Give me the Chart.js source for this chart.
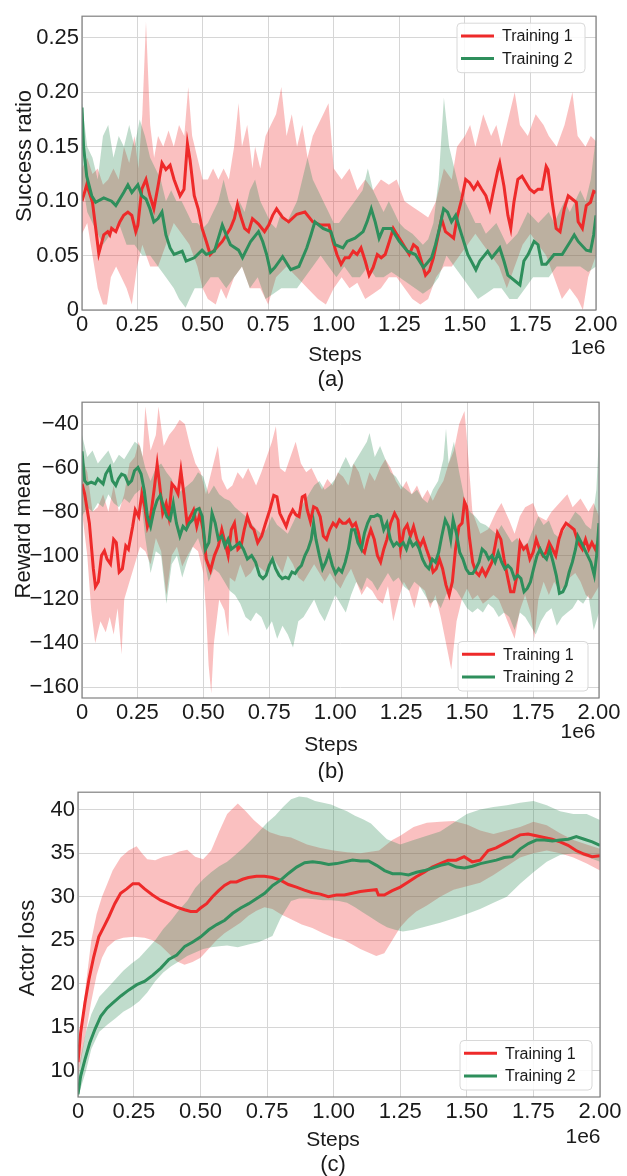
<!DOCTYPE html>
<html>
<head>
<meta charset="utf-8">
<script src="https://cdn.jsdelivr.net/npm/chart.js@4.4.1/dist/chart.umd.min.js"></script>
<style>
  html, body { margin: 0; padding: 0; background: #fff; }
  body { width: 627px; height: 1176px; position: relative; overflow: hidden; }
  canvas { position: absolute; left: 0; }
</style>
</head>
<body>
<canvas id="chartA" width="627" height="392" style="top:0px"></canvas>
<canvas id="chartB" width="627" height="396" style="top:386px"></canvas>
<canvas id="chartC" width="627" height="400" style="top:776px"></canvas>
<script>
// steps are in millions (axis offset label "1e6")
const X_TICKS = [0.04, 0.25, 0.5, 0.75, 1.0, 1.25, 1.5, 1.75, 2.0];
const Y_TICKS_A = [0, 0.05, 0.1, 0.15, 0.2, 0.25];
const Y_TICKS_B = [-160, -140, -120, -100, -80, -60, -40];
const Y_TICKS_C = [10, 15, 20, 25, 30, 35, 40];
const SERIES_NAMES = ["Training 1", "Training 2"];

// (a) success ratio
const t1MeanA = [[0.04,0.100],[0.058,0.115],[0.08,0.099],[0.10,0.060],[0.104,0.052],[0.123,0.069],[0.138,0.072],[0.146,0.069],[0.153,0.075],[0.169,0.072],[0.184,0.081],[0.199,0.087],[0.215,0.090],[0.23,0.087],[0.245,0.072],[0.253,0.078],[0.268,0.111],[0.284,0.120],[0.299,0.105],[0.314,0.093],[0.33,0.114],[0.345,0.135],[0.36,0.129],[0.376,0.133],[0.391,0.120],[0.414,0.105],[0.429,0.111],[0.442,0.153],[0.452,0.138],[0.468,0.105],[0.483,0.093],[0.498,0.075],[0.514,0.063],[0.529,0.051],[0.552,0.057],[0.575,0.063],[0.59,0.069],[0.606,0.075],[0.621,0.084],[0.633,0.097],[0.644,0.087],[0.66,0.075],[0.675,0.072],[0.69,0.084],[0.713,0.079],[0.736,0.072],[0.752,0.078],[0.767,0.087],[0.782,0.093],[0.805,0.085],[0.828,0.081],[0.859,0.088],[0.89,0.09],[0.92,0.081],[0.951,0.078],[0.982,0.078],[0.997,0.063],[1.012,0.051],[1.028,0.042],[1.043,0.048],[1.058,0.048],[1.074,0.054],[1.089,0.051],[1.104,0.057],[1.12,0.045],[1.135,0.032],[1.15,0.039],[1.166,0.051],[1.181,0.048],[1.196,0.051],[1.212,0.063],[1.227,0.075],[1.242,0.069],[1.258,0.063],[1.273,0.057],[1.288,0.051],[1.304,0.06],[1.319,0.057],[1.334,0.045],[1.35,0.032],[1.365,0.036],[1.38,0.048],[1.396,0.066],[1.411,0.084],[1.426,0.072],[1.442,0.069],[1.457,0.066],[1.472,0.087],[1.488,0.102],[1.503,0.12],[1.518,0.117],[1.534,0.111],[1.549,0.117],[1.564,0.111],[1.58,0.105],[1.595,0.093],[1.61,0.111],[1.626,0.129],[1.633,0.135],[1.649,0.114],[1.664,0.087],[1.675,0.075],[1.687,0.099],[1.702,0.12],[1.718,0.123],[1.733,0.117],[1.748,0.111],[1.764,0.108],[1.779,0.111],[1.794,0.111],[1.81,0.132],[1.817,0.129],[1.833,0.099],[1.848,0.075],[1.863,0.072],[1.879,0.093],[1.894,0.105],[1.909,0.102],[1.925,0.099],[1.932,0.081],[1.948,0.075],[1.963,0.096],[1.979,0.099],[1.991,0.109],[2.0,0.108]];
const t1UpperA = [[0.04,0.13],[0.06,0.14],[0.08,0.125],[0.10,0.13],[0.12,0.115],[0.14,0.12],[0.16,0.13],[0.18,0.12],[0.20,0.15],[0.22,0.135],[0.24,0.16],[0.255,0.13],[0.27,0.18],[0.284,0.265],[0.30,0.17],[0.315,0.14],[0.33,0.16],[0.35,0.15],[0.37,0.165],[0.39,0.15],[0.41,0.17],[0.43,0.16],[0.445,0.205],[0.46,0.16],[0.48,0.14],[0.50,0.12],[0.52,0.12],[0.54,0.13],[0.56,0.12],[0.58,0.13],[0.60,0.12],[0.62,0.15],[0.637,0.19],[0.65,0.15],[0.67,0.17],[0.69,0.13],[0.70,0.15],[0.72,0.13],[0.74,0.16],[0.76,0.17],[0.78,0.18],[0.80,0.205],[0.82,0.16],[0.84,0.18],[0.86,0.15],[0.88,0.17],[0.90,0.14],[0.92,0.16],[0.94,0.17],[0.96,0.18],[0.98,0.19],[1.00,0.13],[1.03,0.12],[1.06,0.13],[1.09,0.11],[1.12,0.12],[1.15,0.11],[1.18,0.12],[1.21,0.115],[1.24,0.12],[1.27,0.10],[1.30,0.095],[1.33,0.09],[1.36,0.085],[1.39,0.10],[1.42,0.13],[1.45,0.12],[1.47,0.15],[1.50,0.16],[1.52,0.17],[1.54,0.15],[1.57,0.18],[1.60,0.16],[1.62,0.17],[1.64,0.15],[1.66,0.17],[1.69,0.20],[1.71,0.17],[1.74,0.16],[1.77,0.18],[1.80,0.17],[1.82,0.16],[1.85,0.15],[1.88,0.17],[1.91,0.20],[1.93,0.16],[1.96,0.15],[1.98,0.16],[2.00,0.155]];
const t1LowerA = [[0.04,0.07],[0.06,0.08],[0.08,0.05],[0.10,0.02],[0.12,0.005],[0.135,0.005],[0.15,0.03],[0.17,0.04],[0.19,0.03],[0.21,0.02],[0.23,0.005],[0.25,0.04],[0.27,0.06],[0.30,0.04],[0.33,0.04],[0.36,0.06],[0.39,0.08],[0.42,0.07],[0.45,0.06],[0.48,0.04],[0.50,0.02],[0.52,0.01],[0.55,0.005],[0.57,0.02],[0.59,0.01],[0.62,0.03],[0.65,0.04],[0.68,0.02],[0.72,0.02],[0.75,0.005],[0.78,0.03],[0.82,0.04],[0.86,0.03],[0.90,0.02],[0.94,0.01],[0.97,0.005],[1.00,0.02],[1.03,0.03],[1.06,0.02],[1.09,0.025],[1.12,0.01],[1.15,0.015],[1.18,0.02],[1.21,0.03],[1.24,0.03],[1.27,0.02],[1.30,0.01],[1.33,0.005],[1.36,0.01],[1.39,0.03],[1.42,0.04],[1.45,0.04],[1.48,0.05],[1.51,0.06],[1.54,0.07],[1.57,0.06],[1.60,0.05],[1.63,0.04],[1.66,0.02],[1.69,0.04],[1.72,0.06],[1.75,0.07],[1.78,0.06],[1.81,0.05],[1.84,0.03],[1.87,0.01],[1.90,0.02],[1.93,0.01],[1.95,0.0],[1.97,0.03],[2.00,0.05]];
const t2MeanA = [[0.04,0.186],[0.046,0.150],[0.058,0.123],[0.077,0.105],[0.092,0.099],[0.123,0.103],[0.153,0.100],[0.169,0.096],[0.199,0.108],[0.215,0.115],[0.23,0.108],[0.253,0.115],[0.268,0.105],[0.284,0.102],[0.299,0.093],[0.314,0.081],[0.33,0.084],[0.345,0.090],[0.36,0.069],[0.376,0.057],[0.391,0.051],[0.422,0.054],[0.437,0.045],[0.468,0.048],[0.498,0.055],[0.514,0.051],[0.545,0.054],[0.56,0.066],[0.575,0.078],[0.59,0.069],[0.606,0.060],[0.637,0.055],[0.652,0.048],[0.683,0.063],[0.713,0.072],[0.729,0.063],[0.744,0.051],[0.759,0.035],[0.775,0.039],[0.805,0.049],[0.836,0.037],[0.867,0.040],[0.897,0.057],[0.913,0.069],[0.928,0.081],[0.959,0.075],[0.989,0.072],[1.005,0.060],[1.035,0.057],[1.051,0.063],[1.081,0.066],[1.112,0.072],[1.127,0.081],[1.143,0.093],[1.158,0.081],[1.173,0.066],[1.189,0.075],[1.219,0.075],[1.25,0.063],[1.281,0.054],[1.311,0.051],[1.342,0.039],[1.373,0.048],[1.388,0.060],[1.403,0.075],[1.419,0.093],[1.434,0.090],[1.449,0.081],[1.465,0.087],[1.48,0.075],[1.511,0.051],[1.542,0.037],[1.557,0.045],[1.587,0.054],[1.603,0.048],[1.633,0.057],[1.649,0.045],[1.664,0.032],[1.695,0.026],[1.71,0.023],[1.725,0.045],[1.741,0.051],[1.764,0.063],[1.779,0.060],[1.794,0.042],[1.81,0.042],[1.84,0.051],[1.871,0.051],[1.902,0.063],[1.917,0.069],[1.932,0.063],[1.963,0.055],[1.979,0.054],[1.991,0.069],[2.0,0.087]];
const t2UpperA = [[0.04,0.19],[0.06,0.15],[0.08,0.14],[0.10,0.12],[0.12,0.16],[0.14,0.17],[0.16,0.14],[0.18,0.16],[0.20,0.15],[0.22,0.17],[0.24,0.15],[0.26,0.175],[0.28,0.16],[0.30,0.14],[0.32,0.13],[0.34,0.12],[0.36,0.10],[0.38,0.11],[0.40,0.10],[0.42,0.10],[0.44,0.09],[0.46,0.08],[0.48,0.08],[0.50,0.075],[0.52,0.08],[0.54,0.09],[0.56,0.10],[0.58,0.12],[0.60,0.10],[0.62,0.09],[0.64,0.10],[0.66,0.09],[0.68,0.11],[0.70,0.12],[0.72,0.10],[0.74,0.09],[0.76,0.08],[0.78,0.075],[0.80,0.09],[0.82,0.08],[0.84,0.09],[0.86,0.10],[0.88,0.12],[0.90,0.14],[0.92,0.12],[0.94,0.11],[0.96,0.10],[0.98,0.09],[1.00,0.08],[1.02,0.08],[1.05,0.09],[1.08,0.10],[1.11,0.11],[1.13,0.13],[1.15,0.11],[1.17,0.10],[1.19,0.09],[1.21,0.10],[1.23,0.09],[1.25,0.08],[1.27,0.075],[1.30,0.07],[1.32,0.065],[1.34,0.06],[1.36,0.065],[1.38,0.08],[1.40,0.12],[1.42,0.195],[1.44,0.15],[1.46,0.13],[1.48,0.11],[1.50,0.10],[1.52,0.09],[1.54,0.08],[1.56,0.08],[1.58,0.07],[1.60,0.075],[1.62,0.08],[1.64,0.07],[1.66,0.06],[1.68,0.065],[1.70,0.07],[1.72,0.08],[1.74,0.09],[1.76,0.085],[1.78,0.08],[1.80,0.085],[1.82,0.09],[1.84,0.08],[1.86,0.09],[1.88,0.10],[1.90,0.09],[1.92,0.10],[1.94,0.11],[1.96,0.10],[1.98,0.12],[2.00,0.16]];
const t2LowerA = [[0.04,0.12],[0.06,0.09],[0.08,0.08],[0.10,0.07],[0.12,0.06],[0.15,0.07],[0.18,0.08],[0.21,0.06],[0.24,0.06],[0.27,0.05],[0.30,0.05],[0.33,0.04],[0.36,0.03],[0.39,0.02],[0.41,0.01],[0.435,0.002],[0.45,0.01],[0.47,0.02],[0.50,0.02],[0.53,0.03],[0.56,0.03],[0.59,0.02],[0.62,0.03],[0.65,0.04],[0.68,0.02],[0.71,0.03],[0.74,0.01],[0.77,0.015],[0.80,0.02],[0.83,0.02],[0.86,0.02],[0.89,0.03],[0.92,0.04],[0.95,0.05],[0.98,0.04],[1.01,0.03],[1.04,0.04],[1.07,0.03],[1.10,0.03],[1.13,0.04],[1.16,0.03],[1.19,0.03],[1.22,0.035],[1.25,0.03],[1.28,0.025],[1.31,0.02],[1.34,0.015],[1.37,0.02],[1.40,0.03],[1.43,0.05],[1.46,0.04],[1.49,0.03],[1.52,0.02],[1.55,0.01],[1.58,0.015],[1.61,0.02],[1.64,0.02],[1.67,0.01],[1.70,0.01],[1.73,0.02],[1.76,0.03],[1.79,0.03],[1.82,0.03],[1.85,0.04],[1.88,0.04],[1.91,0.04],[1.94,0.04],[1.97,0.035],[2.00,0.04]];

// (b) reward mean
const t1MeanB = [[0.04,-67.3],[0.05,-71.8],[0.068,-85.2],[0.083,-106],[0.091,-114.2],[0.102,-112],[0.114,-100],[0.125,-97.8],[0.135,-101.6],[0.148,-103.8],[0.16,-92.6],[0.17,-94.1],[0.181,-107.5],[0.193,-106],[0.206,-95.6],[0.216,-97.1],[0.232,-86.7],[0.242,-79.2],[0.255,-82.2],[0.267,-71.8],[0.278,-77.7],[0.288,-86.7],[0.30,-82.2],[0.313,-70.3],[0.325,-58.3],[0.334,-67.3],[0.346,-80.7],[0.359,-76.2],[0.369,-82.2],[0.381,-67.3],[0.392,-68.8],[0.404,-71.8],[0.415,-61.3],[0.426,-71.8],[0.438,-85.2],[0.45,-82.2],[0.463,-79.2],[0.475,-86.7],[0.487,-80.7],[0.499,-88.2],[0.511,-101.6],[0.527,-106.8],[0.542,-100],[0.557,-95.6],[0.57,-88.2],[0.582,-94.1],[0.594,-100],[0.606,-88.2],[0.618,-85.2],[0.631,-97.1],[0.643,-95.6],[0.655,-88.2],[0.667,-82.2],[0.68,-86.7],[0.692,-88.2],[0.706,-94.1],[0.721,-91.1],[0.736,-85.2],[0.752,-79.2],[0.767,-72.5],[0.779,-73.2],[0.79,-80.7],[0.802,-83.7],[0.814,-86.7],[0.826,-82.2],[0.839,-79.2],[0.851,-81.4],[0.863,-82.2],[0.875,-73.2],[0.885,-72.5],[0.894,-79.2],[0.906,-84.4],[0.918,-77.7],[0.93,-78.5],[0.943,-82.2],[0.955,-91.1],[0.967,-92.6],[0.979,-88.2],[0.992,-85.2],[1.004,-86.7],[1.016,-83.7],[1.028,-85.2],[1.04,-85.2],[1.053,-83.7],[1.065,-86.7],[1.077,-85.2],[1.088,-89.6],[1.10,-97.1],[1.111,-98.6],[1.123,-92.6],[1.135,-88.2],[1.148,-92.6],[1.16,-100],[1.172,-103],[1.184,-97.1],[1.196,-92.6],[1.21,-85.2],[1.225,-80.7],[1.238,-83.7],[1.248,-97.1],[1.261,-88.2],[1.273,-86],[1.285,-91.1],[1.297,-86.7],[1.31,-92.6],[1.322,-95.6],[1.334,-92.6],[1.346,-97.1],[1.359,-101.6],[1.371,-107.5],[1.383,-106],[1.395,-101.6],[1.407,-106],[1.42,-113.5],[1.432,-118],[1.444,-112],[1.456,-97.1],[1.469,-86.7],[1.481,-85.2],[1.49,-75.5],[1.498,-77.7],[1.508,-91.1],[1.521,-103],[1.533,-107.5],[1.545,-109],[1.557,-106],[1.57,-109],[1.582,-106],[1.594,-103],[1.606,-95.6],[1.615,-89.6],[1.628,-92.6],[1.64,-101.6],[1.652,-109],[1.665,-116.5],[1.677,-116.5],[1.689,-109],[1.701,-94.1],[1.714,-97.1],[1.726,-95.6],[1.738,-101.6],[1.75,-98.6],[1.762,-92.6],[1.775,-97.1],[1.787,-100],[1.799,-98.6],[1.811,-94.1],[1.824,-97.1],[1.836,-100],[1.848,-92.6],[1.86,-88.2],[1.875,-85.2],[1.891,-86.7],[1.906,-88.2],[1.921,-94.1],[1.937,-97.1],[1.949,-92.6],[1.961,-97.1],[1.973,-94.1],[1.986,-97.1],[2.0,-92.6]];
const t1UpperB = [[0.04,-55],[0.06,-62],[0.08,-80],[0.10,-78],[0.12,-72],[0.14,-80],[0.16,-68],[0.18,-80],[0.20,-72],[0.22,-58],[0.24,-55],[0.255,-48],[0.27,-55],[0.28,-32],[0.30,-52],[0.32,-45],[0.33,-32],[0.35,-50],[0.37,-45],[0.39,-42],[0.41,-38],[0.43,-40],[0.45,-50],[0.47,-58],[0.49,-62],[0.51,-72],[0.53,-62],[0.555,-50],[0.57,-65],[0.59,-70],[0.61,-68],[0.63,-62],[0.65,-65],[0.67,-60],[0.70,-68],[0.72,-62],[0.74,-55],[0.76,-48],[0.775,-41],[0.79,-60],[0.81,-62],[0.83,-55],[0.85,-48],[0.87,-58],[0.89,-62],[0.91,-60],[0.93,-65],[0.95,-70],[0.97,-65],[0.99,-68],[1.01,-62],[1.03,-64],[1.05,-68],[1.07,-58],[1.09,-62],[1.11,-70],[1.13,-62],[1.15,-66],[1.17,-60],[1.19,-56],[1.21,-60],[1.23,-66],[1.25,-70],[1.27,-66],[1.29,-72],[1.31,-68],[1.33,-74],[1.35,-70],[1.37,-75],[1.39,-70],[1.41,-66],[1.43,-58],[1.45,-52],[1.47,-40],[1.49,-34],[1.50,-48],[1.52,-80],[1.55,-90],[1.58,-88],[1.61,-80],[1.63,-76],[1.66,-84],[1.68,-90],[1.70,-82],[1.72,-78],[1.75,-76],[1.77,-82],[1.80,-84],[1.82,-80],[1.85,-76],[1.88,-72],[1.90,-78],[1.93,-74],[1.96,-80],[1.98,-76],[2.00,-82]];
const t1LowerB = [[0.04,-80],[0.06,-100],[0.075,-125],[0.09,-140],[0.11,-130],[0.13,-135],[0.145,-128],[0.16,-136],[0.175,-124],[0.19,-145],[0.20,-120],[0.22,-112],[0.24,-104],[0.26,-96],[0.28,-98],[0.30,-104],[0.32,-92],[0.34,-98],[0.36,-118],[0.38,-100],[0.40,-96],[0.42,-105],[0.44,-100],[0.46,-96],[0.48,-98],[0.50,-108],[0.51,-125],[0.52,-150],[0.53,-163],[0.54,-140],[0.56,-120],[0.58,-125],[0.595,-137],[0.60,-110],[0.62,-112],[0.64,-104],[0.66,-110],[0.68,-108],[0.70,-104],[0.72,-106],[0.74,-108],[0.76,-100],[0.78,-104],[0.80,-108],[0.82,-100],[0.84,-104],[0.86,-110],[0.88,-112],[0.90,-108],[0.92,-104],[0.94,-108],[0.96,-112],[0.98,-108],[1.00,-112],[1.02,-115],[1.04,-110],[1.06,-106],[1.08,-112],[1.10,-118],[1.12,-114],[1.14,-116],[1.16,-120],[1.18,-122],[1.20,-114],[1.22,-130],[1.24,-120],[1.26,-112],[1.28,-116],[1.30,-124],[1.32,-114],[1.34,-116],[1.36,-124],[1.38,-118],[1.40,-128],[1.42,-140],[1.44,-152],[1.46,-130],[1.48,-120],[1.50,-115],[1.52,-120],[1.54,-118],[1.56,-122],[1.58,-120],[1.60,-118],[1.62,-120],[1.64,-126],[1.66,-132],[1.68,-138],[1.70,-125],[1.72,-118],[1.74,-126],[1.755,-138],[1.77,-120],[1.79,-112],[1.81,-118],[1.83,-112],[1.85,-116],[1.87,-114],[1.89,-110],[1.91,-108],[1.93,-112],[1.95,-118],[1.97,-120],[2.00,-114]];
const t2MeanB = [[0.04,-52.4],[0.05,-65.8],[0.06,-67.3],[0.075,-66.5],[0.09,-67.3],[0.10,-65],[0.12,-67.3],[0.13,-62.8],[0.145,-59.8],[0.155,-65.8],[0.168,-68],[0.178,-65],[0.19,-62.8],[0.203,-63.5],[0.216,-67.3],[0.228,-65.8],[0.239,-61.3],[0.252,-59.8],[0.264,-62.8],[0.276,-70.3],[0.288,-82.2],[0.30,-86.7],[0.313,-79.2],[0.325,-74.7],[0.337,-72.5],[0.349,-77.7],[0.362,-82.2],[0.374,-83.7],[0.386,-76.2],[0.398,-85.2],[0.411,-91.1],[0.423,-86.7],[0.435,-88.2],[0.447,-85.2],[0.459,-83.7],[0.472,-79.2],[0.484,-78.5],[0.496,-82.2],[0.508,-97.1],[0.521,-94.1],[0.533,-80.7],[0.545,-85.2],[0.557,-92.6],[0.57,-91.1],[0.582,-95.6],[0.594,-92.6],[0.606,-97.1],[0.622,-95.6],[0.637,-94.1],[0.652,-97.1],[0.667,-101.6],[0.683,-100],[0.698,-103],[0.713,-109],[0.726,-110.5],[0.738,-109],[0.75,-104.5],[0.762,-101.6],[0.774,-106],[0.787,-109],[0.799,-110.5],[0.811,-109.8],[0.823,-110.5],[0.836,-107.5],[0.848,-108.2],[0.86,-106],[0.872,-104.5],[0.885,-100],[0.897,-97.1],[0.909,-92.6],[0.918,-85.2],[0.927,-92.6],[0.94,-100],[0.952,-106],[0.964,-103],[0.976,-98.6],[0.989,-104.5],[1.001,-108.2],[1.013,-106],[1.025,-107.5],[1.038,-103],[1.05,-97.1],[1.062,-88.2],[1.074,-88.2],[1.086,-94.1],[1.099,-97.1],[1.111,-89.6],[1.123,-85.2],[1.135,-82.2],[1.147,-82.2],[1.16,-81.4],[1.172,-82.2],[1.184,-88.2],[1.196,-85.2],[1.209,-92.6],[1.221,-95.6],[1.233,-94.1],[1.245,-95.6],[1.258,-94.1],[1.27,-97.1],[1.282,-92.6],[1.294,-95.6],[1.307,-94.1],[1.319,-97.1],[1.331,-101.6],[1.343,-104.5],[1.355,-106],[1.368,-101.6],[1.38,-103],[1.392,-98.6],[1.404,-91.1],[1.417,-83.7],[1.429,-86.7],[1.438,-92.6],[1.447,-83.7],[1.459,-89.6],[1.472,-98.6],[1.484,-101.6],[1.496,-106],[1.508,-108.2],[1.521,-108.2],[1.533,-106],[1.545,-103],[1.557,-97.1],[1.57,-98.6],[1.582,-101.6],[1.594,-100],[1.606,-103],[1.618,-98.6],[1.631,-103],[1.643,-106],[1.655,-104.5],[1.667,-106],[1.68,-110.5],[1.692,-109],[1.704,-110.5],[1.716,-116.5],[1.728,-115],[1.74,-112],[1.752,-106],[1.765,-100],[1.777,-97.1],[1.789,-100],[1.801,-101.6],[1.813,-97.1],[1.826,-103],[1.838,-109],[1.85,-117.2],[1.863,-116.5],[1.875,-113.5],[1.887,-107.5],[1.899,-103],[1.911,-97.1],[1.92,-91.1],[1.933,-94.1],[1.945,-97.1],[1.957,-100],[1.969,-103],[1.982,-109],[1.991,-100],[2.0,-85.2]];
const t2UpperB = [[0.04,-45],[0.06,-55],[0.08,-52],[0.10,-58],[0.12,-55],[0.14,-52],[0.16,-58],[0.18,-54],[0.20,-56],[0.22,-52],[0.24,-48],[0.26,-50],[0.28,-60],[0.30,-66],[0.32,-60],[0.34,-58],[0.36,-62],[0.38,-65],[0.40,-72],[0.42,-70],[0.44,-68],[0.46,-66],[0.48,-62],[0.50,-64],[0.52,-72],[0.54,-68],[0.56,-72],[0.58,-74],[0.60,-75],[0.62,-78],[0.64,-80],[0.66,-82],[0.68,-85],[0.70,-88],[0.72,-90],[0.74,-88],[0.76,-82],[0.78,-86],[0.80,-88],[0.82,-90],[0.84,-85],[0.86,-80],[0.88,-76],[0.90,-72],[0.92,-68],[0.94,-66],[0.96,-70],[0.98,-68],[1.00,-65],[1.02,-60],[1.04,-55],[1.06,-60],[1.08,-56],[1.10,-52],[1.12,-48],[1.13,-44],[1.15,-55],[1.17,-50],[1.19,-56],[1.21,-62],[1.23,-64],[1.25,-68],[1.27,-70],[1.29,-72],[1.31,-70],[1.33,-74],[1.35,-76],[1.37,-70],[1.39,-66],[1.41,-56],[1.42,-42],[1.43,-58],[1.45,-48],[1.47,-62],[1.49,-74],[1.51,-80],[1.53,-82],[1.55,-85],[1.57,-86],[1.59,-88],[1.61,-90],[1.63,-86],[1.65,-90],[1.67,-94],[1.69,-92],[1.71,-96],[1.73,-94],[1.75,-88],[1.77,-82],[1.79,-86],[1.81,-84],[1.83,-90],[1.85,-92],[1.87,-88],[1.89,-84],[1.91,-80],[1.93,-82],[1.95,-86],[1.97,-88],[1.99,-70],[2.00,-45]];
const t2LowerB = [[0.04,-82],[0.06,-78],[0.08,-80],[0.10,-76],[0.12,-78],[0.14,-72],[0.16,-76],[0.18,-78],[0.20,-74],[0.22,-76],[0.24,-72],[0.26,-70],[0.28,-92],[0.30,-108],[0.32,-98],[0.34,-100],[0.36,-122],[0.38,-104],[0.40,-100],[0.42,-110],[0.44,-102],[0.46,-96],[0.48,-92],[0.50,-100],[0.52,-112],[0.54,-106],[0.56,-108],[0.58,-112],[0.60,-116],[0.62,-118],[0.64,-122],[0.66,-128],[0.68,-130],[0.70,-126],[0.72,-128],[0.74,-134],[0.76,-130],[0.78,-138],[0.80,-132],[0.82,-136],[0.84,-142],[0.86,-130],[0.88,-128],[0.90,-124],[0.92,-120],[0.94,-126],[0.96,-130],[0.98,-124],[1.00,-118],[1.02,-122],[1.04,-126],[1.06,-118],[1.08,-112],[1.10,-116],[1.12,-110],[1.14,-112],[1.16,-116],[1.18,-112],[1.20,-108],[1.22,-112],[1.24,-110],[1.26,-114],[1.28,-116],[1.30,-112],[1.32,-114],[1.34,-118],[1.36,-122],[1.38,-120],[1.40,-124],[1.42,-118],[1.44,-114],[1.46,-116],[1.48,-120],[1.50,-124],[1.52,-126],[1.54,-124],[1.56,-126],[1.58,-122],[1.60,-124],[1.62,-128],[1.64,-126],[1.66,-128],[1.68,-134],[1.70,-126],[1.72,-128],[1.74,-132],[1.76,-136],[1.78,-130],[1.80,-126],[1.82,-124],[1.84,-132],[1.86,-128],[1.88,-126],[1.90,-124],[1.92,-120],[1.94,-122],[1.96,-118],[1.98,-134],[2.00,-126]];

// (c) actor loss
const t1MeanC = [[0.04,11.0],[0.05,14.4],[0.066,17.8],[0.081,20.5],[0.099,23.1],[0.118,25.4],[0.138,26.6],[0.156,27.7],[0.178,29.2],[0.20,30.4],[0.223,30.9],[0.246,31.5],[0.268,31.5],[0.29,30.9],[0.32,30.2],[0.35,29.6],[0.38,29.2],[0.41,28.8],[0.44,28.5],[0.463,28.3],[0.485,28.3],[0.50,28.7],[0.523,29.2],[0.545,30.0],[0.568,30.7],[0.59,31.3],[0.613,31.7],[0.635,31.7],[0.658,32.0],[0.68,32.2],[0.71,32.35],[0.74,32.35],[0.77,32.2],[0.80,31.9],[0.83,31.4],[0.86,31.1],[0.89,30.75],[0.92,30.45],[0.95,30.3],[0.98,30.0],[1.01,30.2],[1.04,30.2],[1.07,30.4],[1.10,30.6],[1.13,30.7],[1.16,30.8],[1.168,30.2],[1.19,30.2],[1.22,30.7],[1.25,31.1],[1.28,31.7],[1.31,32.3],[1.34,32.8],[1.37,33.4],[1.40,33.8],[1.43,34.2],[1.46,34.2],[1.49,34.6],[1.52,34.0],[1.55,34.2],[1.58,35.3],[1.61,35.6],[1.64,36.1],[1.67,36.6],[1.70,37.1],[1.73,37.2],[1.76,37.0],[1.79,36.8],[1.82,36.6],[1.85,36.3],[1.88,35.9],[1.91,35.3],[1.94,34.9],[1.97,34.6],[2.0,34.7]];
const t1UpperC = [[0.04,12],[0.05,15],[0.07,20],[0.09,25],[0.11,28],[0.13,30],[0.15,31.5],[0.17,33],[0.20,34.5],[0.23,35.3],[0.26,35.8],[0.28,35],[0.30,34.3],[0.33,34.2],[0.36,34.6],[0.39,34.8],[0.42,35.2],[0.45,35.4],[0.48,34.6],[0.51,34.3],[0.54,35.3],[0.57,37.5],[0.60,39.5],[0.64,40.7],[0.67,39.8],[0.70,38.8],[0.73,38],[0.76,37.4],[0.80,37],[0.84,36.8],[0.90,36],[0.95,35.6],[1.00,35.3],[1.05,35.1],[1.10,35],[1.17,35.3],[1.22,36.5],[1.25,37],[1.30,38],[1.35,38.5],[1.40,38.6],[1.45,38.7],[1.50,38.3],[1.55,37.6],[1.60,37.2],[1.65,37.6],[1.70,38],[1.75,38.6],[1.80,38.2],[1.85,37.3],[1.90,36.5],[1.95,36],[2.00,35.5]];
const t1LowerC = [[0.04,9.5],[0.05,11],[0.07,14.5],[0.09,18],[0.11,21],[0.13,23],[0.15,24.2],[0.18,25],[0.21,25.3],[0.25,25.4],[0.29,25.3],[0.32,25],[0.35,24.4],[0.38,23.5],[0.41,22.6],[0.44,22.2],[0.47,22.5],[0.50,23],[0.53,24],[0.56,25],[0.59,25.8],[0.62,26.4],[0.65,27],[0.68,27.8],[0.71,28.4],[0.74,28.8],[0.77,28.6],[0.80,28],[0.84,27.4],[0.88,26.8],[0.92,26.4],[0.96,25.8],[1.00,25.3],[1.04,25],[1.07,24.5],[1.10,24],[1.13,23.6],[1.16,23.2],[1.19,23.5],[1.22,25],[1.25,26.5],[1.28,27.5],[1.31,28.3],[1.35,29],[1.40,30],[1.45,30.8],[1.50,31.2],[1.55,31.6],[1.60,32.5],[1.65,33.5],[1.70,34.5],[1.75,35],[1.80,35.3],[1.85,35],[1.90,34.5],[1.95,33.8],[2.00,33]];
const t2MeanC = [[0.04,7.3],[0.05,9.4],[0.066,11.3],[0.084,13.2],[0.104,14.8],[0.126,16.3],[0.149,17.2],[0.171,17.8],[0.201,18.6],[0.231,19.3],[0.261,19.9],[0.291,20.3],[0.321,21.0],[0.351,21.8],[0.381,22.8],[0.411,23.3],[0.441,24.3],[0.471,24.8],[0.501,25.4],[0.531,26.2],[0.561,26.8],[0.591,27.3],[0.621,28.1],[0.651,28.7],[0.681,29.2],[0.711,29.8],[0.741,30.4],[0.771,31.3],[0.801,31.9],[0.831,32.7],[0.861,33.4],[0.891,33.9],[0.921,34.0],[0.951,33.9],[0.981,33.7],[1.011,33.8],[1.041,34.0],[1.071,34.2],[1.101,34.1],[1.131,34.1],[1.161,33.6],[1.191,33.0],[1.221,32.65],[1.251,32.65],[1.281,32.5],[1.311,32.8],[1.341,33.0],[1.371,33.3],[1.401,33.6],[1.431,33.8],[1.461,33.4],[1.491,33.3],[1.521,33.5],[1.551,33.8],[1.581,34.0],[1.611,34.2],[1.641,34.5],[1.671,34.6],[1.701,35.5],[1.731,36.1],[1.761,36.5],[1.791,36.5],[1.821,36.4],[1.851,36.5],[1.881,36.6],[1.911,36.9],[1.941,36.6],[1.971,36.3],[2.0,35.9]];
const t2UpperC = [[0.04,9],[0.05,11.5],[0.07,14.5],[0.09,16.5],[0.12,18.5],[0.15,19.5],[0.18,20.5],[0.21,21.5],[0.24,22.3],[0.27,23],[0.30,24],[0.33,25],[0.36,26.3],[0.39,27.3],[0.42,28.5],[0.45,29.5],[0.48,31],[0.51,32],[0.54,32.8],[0.57,33.5],[0.60,34],[0.63,34.8],[0.66,35.6],[0.69,36.5],[0.72,37.5],[0.75,38.5],[0.78,39.3],[0.81,40.3],[0.84,41.2],[0.87,41.5],[0.90,41.4],[0.93,41],[0.96,40.8],[0.99,40.6],[1.02,40.2],[1.05,39.8],[1.08,39.3],[1.11,38.9],[1.14,38.4],[1.17,37.5],[1.20,36.6],[1.25,36],[1.30,36.5],[1.35,37],[1.40,37.5],[1.45,38.5],[1.50,39.5],[1.55,40],[1.60,40.3],[1.65,40.5],[1.70,40.8],[1.75,41],[1.80,40.5],[1.85,39.8],[1.90,39.5],[1.95,39.5],[2.00,38.8]];
const t2LowerC = [[0.04,7],[0.05,8],[0.07,10],[0.09,12.5],[0.12,14.5],[0.15,15.3],[0.18,16],[0.21,16.8],[0.24,17.3],[0.27,18],[0.30,19],[0.33,20.3],[0.36,21.3],[0.39,22],[0.42,22.6],[0.45,23.2],[0.48,23.6],[0.51,24],[0.54,24.2],[0.57,24.3],[0.60,24.4],[0.64,24.2],[0.68,24.5],[0.72,24.8],[0.77,25.5],[0.80,27.5],[0.84,29.5],[0.87,29.8],[0.90,29.8],[0.93,29.7],[0.96,29.6],[0.99,29.6],[1.02,29.5],[1.05,29.3],[1.08,28.8],[1.11,28.2],[1.14,27.6],[1.17,27],[1.20,26.5],[1.23,26.2],[1.26,26],[1.30,26.2],[1.35,26.6],[1.40,27],[1.45,27.5],[1.50,28],[1.55,28.6],[1.60,29.3],[1.65,30],[1.70,31.5],[1.75,32.8],[1.80,34],[1.85,34.8],[1.90,35],[1.95,34.6],[2.00,34]];

const RED = "#ee2a2a";
const GREEN = "#2e8f5c";
const RED_BAND = "rgba(240, 60, 60, 0.32)";
const GREEN_BAND = "rgba(46, 139, 87, 0.30)";
const FONT = '"Liberation Sans", Arial, sans-serif';
const INK = "#1a1a1a";

Chart.defaults.font.family = FONT;
Chart.defaults.color = INK;

function fmtX(v) {
  return v < 0.1 ? "0" : v.toFixed(2);
}

function roundedRect(ctx, x, y, w, h, r) {
  ctx.beginPath();
  ctx.moveTo(x + r, y);
  ctx.lineTo(x + w - r, y);
  ctx.quadraticCurveTo(x + w, y, x + w, y + r);
  ctx.lineTo(x + w, y + h - r);
  ctx.quadraticCurveTo(x + w, y + h, x + w - r, y + h);
  ctx.lineTo(x + r, y + h);
  ctx.quadraticCurveTo(x, y + h, x, y + h - r);
  ctx.lineTo(x, y + r);
  ctx.quadraticCurveTo(x, y, x + r, y);
  ctx.closePath();
}

// frame, legend box and the text matplotlib puts around the axes
function makeDecor(p) {
  return {
    id: "decor",
    afterDatasetsDraw(chart) {
      const { ctx, chartArea: a } = chart;
      ctx.save();
      ctx.strokeStyle = "#808080";
      ctx.lineWidth = 1.2;
      ctx.strokeRect(a.left, a.top, a.right - a.left, a.bottom - a.top);
      ctx.restore();
    },
    afterDraw(chart) {
      const { ctx, chartArea: a } = chart;
      ctx.save();

      const w = p.legend.w, h = 49.5;
      const bx = a.right - p.legend.dx - w;
      const by = p.legend.top ? a.top + p.legend.dy : a.bottom - p.legend.dy - h;
      roundedRect(ctx, bx, by, w, h, 4);
      ctx.fillStyle = "rgba(255,255,255,0.85)";
      ctx.fill();
      ctx.strokeStyle = "#d8d8d8";
      ctx.lineWidth = 1;
      ctx.stroke();

      const entries = chart.data.datasets.filter((d) => d.label);
      ctx.font = "16px " + FONT;
      ctx.textBaseline = "middle";
      ctx.textAlign = "left";
      entries.forEach((d, i) => {
        const y = by + 12.7 + i * 22.7;
        ctx.strokeStyle = d.borderColor;
        ctx.lineWidth = 3;
        ctx.beginPath();
        ctx.moveTo(bx + 4, y);
        ctx.lineTo(bx + 37, y);
        ctx.stroke();
        ctx.fillStyle = INK;
        ctx.fillText(d.label, bx + 45, y + 1);
      });

      ctx.fillStyle = INK;
      ctx.textAlign = "center";
      ctx.textBaseline = "middle";
      ctx.font = "21px " + FONT;
      ctx.fillText("Steps", p.stepsPos[0], p.stepsPos[1]);
      ctx.fillText("1e6", p.expPos[0], p.expPos[1]);
      ctx.font = "22px " + FONT;
      ctx.fillText(p.caption, p.capPos[0], p.capPos[1]);

      ctx.translate(p.titlePos[0], p.titlePos[1]);
      ctx.rotate(-Math.PI / 2);
      ctx.font = "22px " + FONT;
      ctx.fillText(p.title, 0, 0);
      ctx.restore();
    }
  };
}

function buildChart(p) {
  const canvas = document.getElementById(p.id);
  const W = canvas.width, H = canvas.height;
  const line = (label, data, color, order) => ({
    label, data, borderColor: color, borderWidth: 3, pointRadius: 0,
    fill: false, tension: 0, order
  });
  const band = (data, color, fillTo, order) => ({
    data, borderWidth: 0, borderColor: "rgba(0,0,0,0)", backgroundColor: color,
    pointRadius: 0, fill: fillTo, tension: 0, order
  });

  return new Chart(canvas, {
    type: "line",
    data: {
      datasets: [
        band(p.t1Upper, RED_BAND, 1, 3),
        band(p.t1Lower, RED_BAND, false, 3),
        band(p.t2Upper, GREEN_BAND, 3, 2),
        band(p.t2Lower, GREEN_BAND, false, 2),
        line(SERIES_NAMES[0], p.t1Mean, RED, 1),
        line(SERIES_NAMES[1], p.t2Mean, GREEN, 0)
      ]
    },
    options: {
      responsive: false,
      animation: false,
      events: [],
      layout: {
        autoPadding: false,
        padding: { top: p.area.top, right: W - p.area.right, left: 0, bottom: 0 }
      },
      plugins: { legend: { display: false }, tooltip: { enabled: false } },
      scales: {
        x: {
          type: "linear",
          min: 0.04,
          max: 2.0,
          afterBuildTicks: (s) => { s.ticks = X_TICKS.map((v) => ({ value: v })); },
          afterFit: (s) => { s.height = H - p.area.bottom; },
          ticks: { font: { size: 22 }, color: INK, padding: 2, maxRotation: 0, autoSkip: false, callback: fmtX },
          grid: { color: "#d6d6d6", lineWidth: 1, drawTicks: false },
          border: { display: false }
        },
        y: {
          min: p.yMin,
          max: p.yMax,
          afterBuildTicks: (s) => { s.ticks = p.yTicks.map((v) => ({ value: v })); },
          afterFit: (s) => { s.width = p.area.left; },
          ticks: { font: { size: 22 }, color: INK, padding: 3, callback: p.fmtY },
          grid: { color: "#d6d6d6", lineWidth: 1, drawTicks: false },
          border: { display: false }
        }
      }
    },
    plugins: [makeDecor(p)]
  });
}

const PANELS = [
  {
    id: "chartA", area: { left: 82, top: 10, right: 596, bottom: 310 },
    yMin: 0, yMax: 0.27, yTicks: Y_TICKS_A,
    fmtY: (v) => (v === 0 ? "0" : v.toFixed(2)),
    t1Mean: t1MeanA, t1Upper: t1UpperA, t1Lower: t1LowerA,
    t2Mean: t2MeanA, t2Upper: t2UpperA, t2Lower: t2LowerA,
    title: "Success ratio", titlePos: [25, 156],
    stepsPos: [335, 355], expPos: [588, 348], caption: "(a)", capPos: [331, 380],
    legend: { top: true, dx: 11, dy: 7, w: 128 }
  },
  {
    id: "chartB", area: { left: 82, top: 11, right: 599, bottom: 312 },
    yMin: -165, yMax: -30, yTicks: Y_TICKS_B,
    fmtY: (v) => (v < 0 ? "\u2212" + Math.abs(v) : String(v)),
    t1Mean: t1MeanB, t1Upper: t1UpperB, t1Lower: t1LowerB,
    t2Mean: t2MeanB, t2Upper: t2UpperB, t2Lower: t2LowerB,
    title: "Reward mean", titlePos: [24, 144],
    stepsPos: [331, 359], expPos: [578, 346], caption: "(b)", capPos: [331, 386],
    legend: { top: false, dx: 11, dy: 7, w: 130 }
  },
  {
    id: "chartC", area: { left: 78, top: 16, right: 600, bottom: 321 },
    yMin: 7, yMax: 42, yTicks: Y_TICKS_C,
    fmtY: (v) => String(v),
    t1Mean: t1MeanC, t1Upper: t1UpperC, t1Lower: t1LowerC,
    t2Mean: t2MeanC, t2Upper: t2UpperC, t2Lower: t2LowerC,
    title: "Actor loss", titlePos: [28, 172],
    stepsPos: [333, 364], expPos: [583, 361], caption: "(c)", capPos: [333, 389],
    legend: { top: false, dx: 8, dy: 7, w: 132 }
  }
];

PANELS.forEach(buildChart);
</script>
</body>
</html>
